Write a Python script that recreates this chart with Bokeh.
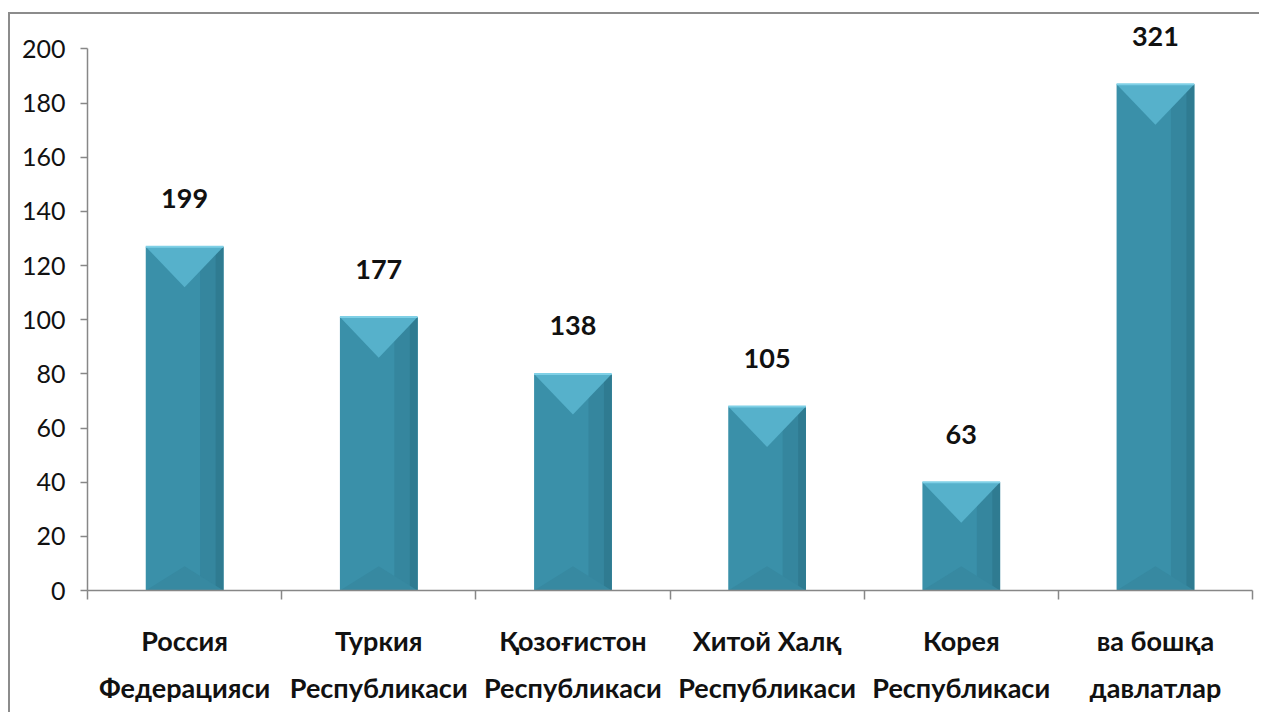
from bokeh.plotting import figure
from bokeh.models import Range1d, FixedTicker, LinearAxis, ColumnDataSource, LabelSet
from bokeh.core.properties import value
from bokeh.embed import file_html
from bokeh.resources import INLINE

# ---- data ----
categories = [
    "Россия\nФедерацияси",
    "Туркия\nРеспубликаси",
    "Қозоғистон\nРеспубликаси",
    "Хитой Халқ\nРеспубликаси",
    "Корея\nРеспубликаси",
    "ва бошқа\nдавлатлар",
]
bar_heights = [127, 101, 80, 68, 40, 187]
value_labels = ["199", "177", "138", "105", "63", "321"]
y_ticks = [0, 20, 40, 60, 80, 100, 120, 140, 160, 180, 200]

FONT = "Lato"
AXIS_COLOR = "#878787"

n = len(categories)
centers = [i + 0.5 for i in range(n)]
bar_w = 0.40
bevel = 15

p = figure(width=1251, height=700, output_backend="svg", toolbar_location=None,
           x_range=Range1d(0, n), y_range=Range1d(0, 212),
           min_border_left=77, min_border_right=9, min_border_top=2, min_border_bottom=124,
           x_axis_type=None, y_axis_type=None)
p.styles = {"border-top": "2px solid #8c8c8c", "border-left": "2px solid #8c8c8c",
            "margin-top": "12px", "margin-left": "8px"}
p.outline_line_color = None
p.grid.visible = False
p.background_fill_color = "white"
p.border_fill_color = "white"

# y axis
ya = LinearAxis(ticker=FixedTicker(ticks=y_ticks), bounds=(0, 200))
ya.axis_line_color = AXIS_COLOR
ya.axis_line_width = 1.5
ya.major_tick_line_color = AXIS_COLOR
ya.major_tick_line_width = 1.5
ya.major_tick_in = 0
ya.major_tick_out = 7
ya.minor_tick_line_color = None
ya.major_label_text_font = FONT
ya.major_label_text_font_size = "25px"
ya.major_label_text_color = "#111111"
ya.major_label_standoff = 15
p.add_layout(ya, "left")

# x axis: ticks at category boundaries
bticks = list(range(n + 1))
xa = LinearAxis(ticker=FixedTicker(ticks=bticks))
xa.axis_line_color = AXIS_COLOR
xa.axis_line_width = 1.5
xa.major_tick_line_color = AXIS_COLOR
xa.major_tick_line_width = 1.5
xa.major_tick_in = 0
xa.major_tick_out = 9
xa.minor_tick_line_color = None
xa.major_label_overrides = {t: "" for t in bticks}
xa.major_label_text_font_size = "10px"
xa.major_label_standoff = 0
p.add_layout(xa, "below")

# category labels centered in each slot
xl = LinearAxis(ticker=FixedTicker(ticks=centers))
xl.axis_line_color = None
xl.major_tick_line_color = None
xl.minor_tick_line_color = None
xl.major_label_overrides = {c: lab for c, lab in zip(centers, categories)}
xl.major_label_text_font = FONT
xl.major_label_text_font_style = "bold"
xl.major_label_text_font_size = "27px"
xl.major_label_text_color = "#111111"
xl.major_label_text_line_height = 1.45
xl.major_label_standoff = 18
p.add_layout(xl, "below")

# bars
src = ColumnDataSource(dict(x=centers, top=bar_heights, lab=value_labels))
p.vbar(x="x", top="top", width=bar_w, bottom=0, source=src,
       fill_color="#3a90a9", line_color=None)
# darker right side
p.vbar(x=[c + bar_w * 0.35 for c in centers], top=bar_heights, width=bar_w * 0.3,
       bottom=0, fill_color="#35869e", line_color=None)
p.vbar(x=[c + bar_w * 0.45 for c in centers], top=bar_heights, width=bar_w * 0.1,
       bottom=0, fill_color="#2f7b91", line_color=None)
# lighter top bevel
tri_xs = [[c - bar_w / 2, c + bar_w / 2, c] for c in centers]
tri_ys = [[h, h, h - bevel] for h in bar_heights]
p.patches(tri_xs, tri_ys, fill_color="#56b1cb", line_color=None)
# bottom bevel
btri_ys = [[0, 0, bevel * 0.6] for h in bar_heights]
p.patches(tri_xs, btri_ys, fill_color="#3789a1", line_color=None)
# top highlight line
p.segment(x0=[c - bar_w / 2 for c in centers], x1=[c + bar_w / 2 for c in centers],
          y0=bar_heights, y1=bar_heights, line_color="#7fd0e6", line_width=2)

labels = LabelSet(x="x", y="top", text="lab", source=src, y_offset=48,
                  text_align="center", text_baseline="middle",
                  text_font=value(FONT), text_font_style="bold", text_font_size="27px",
                  text_color="#111111")
p.add_layout(labels)

open("out.html", "w").write(file_html(p, INLINE))
